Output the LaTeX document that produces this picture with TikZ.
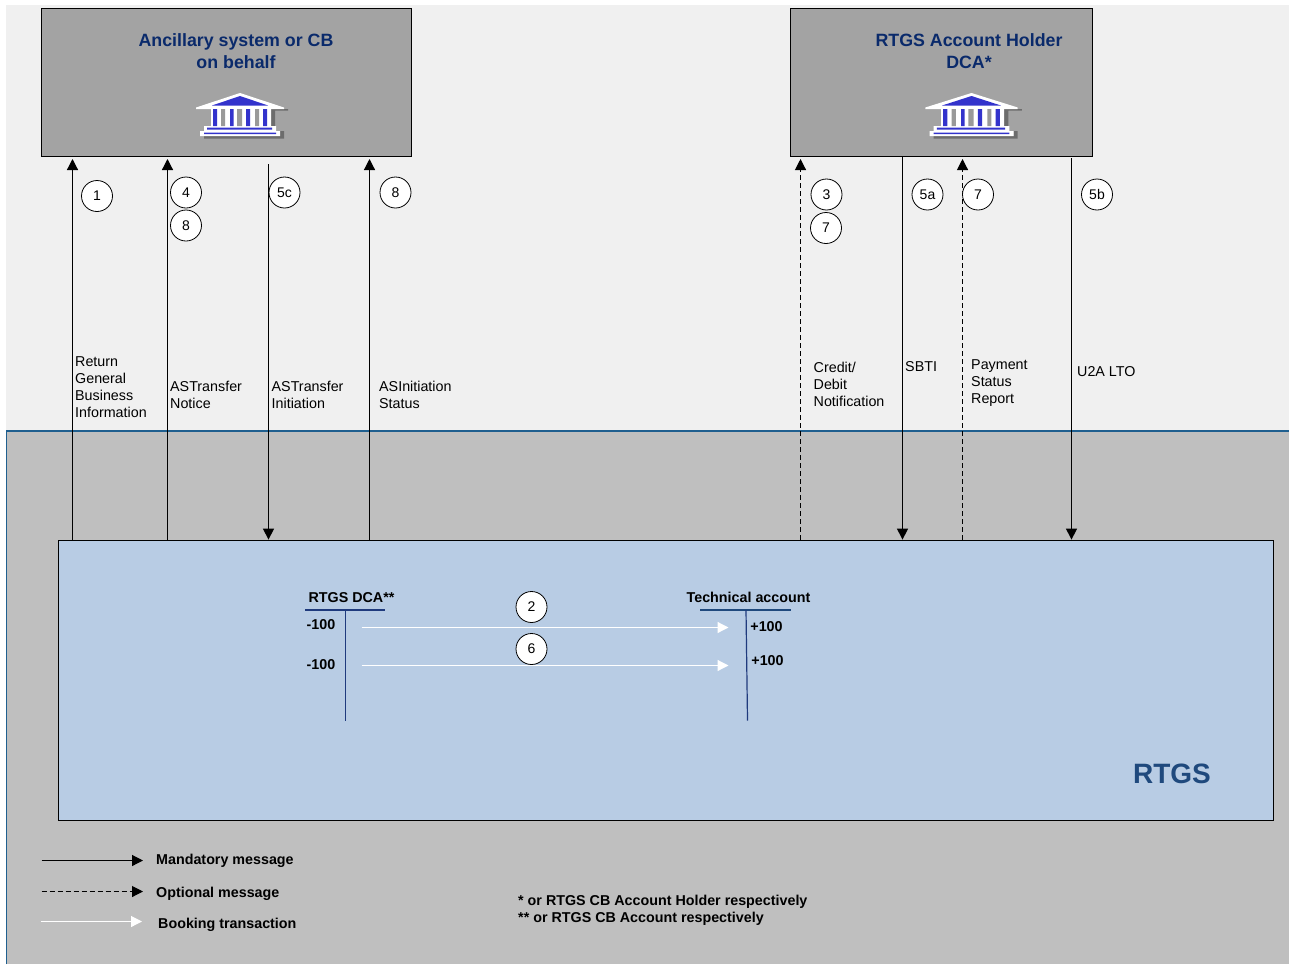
\documentclass[tikz,border=0pt]{standalone}
\usepackage{fontspec}
\setmainfont{Liberation Sans}
\usetikzlibrary{arrows.meta,positioning,calc}
\definecolor{upperBg}{HTML}{F0F0F0}
\definecolor{lowerBg}{HTML}{BFBFBF}
\definecolor{zoneLine}{HTML}{1F5F8F}
\definecolor{actorGrey}{HTML}{A3A3A3}
\definecolor{rtgsBlue}{HTML}{B8CCE4}
\definecolor{titleNavy}{HTML}{0A2A6B}
\definecolor{rtgsText}{HTML}{1F497D}
\definecolor{bankBlue}{HTML}{3333CC}
\definecolor{tNavy}{HTML}{1F3A7D}
\tikzset{
	actorBox/.style={draw=black, line width=1pt, fill=actorGrey},
	actorTitle/.style={text=titleNavy, align=center, font=\fontsize{17.8}{22}\selectfont\bfseries},
	stepCircle/.style={circle, draw=black, fill=white, line width=0.8pt, minimum size=31pt, inner sep=0pt, font=\fontsize{14}{16}\selectfont},
	msgLabel/.style={anchor=west, align=left, inner sep=0pt, font=\fontsize{14.3}{17}\selectfont},
	boldLabel/.style={inner sep=0pt, font=\fontsize{14.3}{17}\selectfont\bfseries},
	mandatoryMsg/.style={draw=black, line width=1.2pt, -{Triangle[width=11pt,length=11pt]}},
	optionalMsg/.style={mandatoryMsg, line width=1.1pt, dash pattern=on 5pt off 3pt},
	bookingMsg/.style={draw=white, line width=1.2pt, -{Triangle[width=11pt,length=11pt]}},
	tLine/.style={draw=tNavy, line width=1.2pt}
}
\newcommand{\stepNode}[4]{\node[stepCircle] (#1) at (#2,#3) {#4};}
\newcommand{\msgNode}[4]{\node[msgLabel] (#1) at (#2,#3) {#4};}
\newcommand{\upMsg}[3]{\coordinate (#1) at (#2,159);
	\draw[#3] (#1 |- rtgs.north) -- (#1);}
\newcommand{\downMsg}[3]{\coordinate (#1) at (#2,#3);
	\draw[mandatoryMsg] (#1) -- (#1 |- rtgs.north);}
\newcommand{\bankIcon}[3]{\begin{scope}[shift={(#1,#2)},xscale=#3]
	\fill[gray!85!black] (30,16) rectangle (48,17.5) (30,16) rectangle (35,33) (40,38) rectangle (44,45.5) (-36,43) rectangle (44,45.5);
	\fill[white] (-44,14.5) -- (0,0) -- (44,14.5) -- (44,16) -- (-44,16) -- cycle;
	\fill[bankBlue] (-28,12.5) -- (0,3) -- (28,12.5) -- cycle;
	\fill[white] (-29,15) rectangle (31,34) (-36,33) rectangle (36,38) (-40,38) rectangle (40,43);
	\fill[gray!80] (-19,16) rectangle (-15,33) (-3,16) rectangle (2,33) (15,16) rectangle (19,33);
	\fill[bankBlue] (-27,16) rectangle (-23,33) (-10,16) rectangle (-6.5,33) (6,16) rectangle (10,33) (23,16) rectangle (27,33);
	\fill[bankBlue] (-33,34.5) rectangle (32,36.5) (-36,39.5) rectangle (36,41);
\end{scope}}

\begin{document}
\begin{tikzpicture}[x=1pt, y=-1pt]
	\useasboundingbox (0,0) rectangle (1289,964);
	% zones
	\fill[upperBg] (6,5) rectangle (1289,431);
	\fill[lowerBg] (6,431) rectangle (1289,964);
	\draw[zoneLine, line width=1.5pt] (6.5,964) -- (6.5,431) -- (1289,431);
	% boxes
	\node[actorBox, minimum width=370pt, minimum height=148pt, inner sep=0pt] (ancillary) at (226,82) {};
	\node[actorBox, minimum width=302pt, minimum height=148pt, inner sep=0pt] (holder) at (941,82) {};
	\node[draw=black, line width=0.8pt, fill=rtgsBlue, minimum width=1215pt, minimum height=280pt, inner sep=0pt] (rtgs) at (665.5,680) {};
	\node[actorTitle] (ancillaryTitle) at (236,51) {Ancillary system or CB\\on behalf};
	\node[actorTitle] (holderTitle) at (969,51) {RTGS Account Holder\\DCA*};
	\bankIcon{240}{93}{1}
	\bankIcon{971.5}{93}{1.05}
	\node[text=rtgsText, inner sep=0pt, font=\fontsize{28}{30}\selectfont\bfseries] (rtgsTitle) at (1172,774) {RTGS};
	% messages
	\upMsg{returnInfo}{72.5}{mandatoryMsg}
	\upMsg{transferNotice}{167.5}{mandatoryMsg}
	\downMsg{transferInit}{268.5}{164}
	\upMsg{initStatus}{369.5}{mandatoryMsg}
	\upMsg{creditDebit}{800.5}{optionalMsg}
	\downMsg{sbti}{902.5}{156}
	\upMsg{payStatus}{962.5}{optionalMsg}
	\downMsg{ltoMsg}{1071.5}{158}
	\msgNode{returnLabel}{75}{387.5}{Return\\General\\Business\\Information}
	\msgNode{noticeLabel}{170}{394.5}{ASTransfer\\Notice}
	\msgNode{initLabel}{271.5}{394.5}{ASTransfer\\Initiation}
	\msgNode{statusLabel}{379}{394.5}{ASInitiation\\Status}
	\msgNode{creditLabel}{813.5}{384}{Credit/\\Debit\\Notification}
	\msgNode{sbtiLabel}{905}{366.5}{SBTI}
	\msgNode{payLabel}{971}{383.5}{Payment\\Status\\Report}
	\msgNode{ltoLabel}{1077}{372}{U2A LTO}
	% steps
	\stepNode{stepOne}{97}{196}{1}
	\stepNode{stepFour}{186}{192.5}{4}
	\stepNode{stepEightA}{186}{225.5}{8}
	\stepNode{stepFiveC}{284.5}{192.5}{5c}
	\stepNode{stepEightB}{395.5}{192.5}{8}
	\stepNode{stepThree}{826.5}{194.5}{3}
	\stepNode{stepSevenA}{826}{228}{7}
	\stepNode{stepFiveA}{927.5}{194.5}{5a}
	\stepNode{stepSevenB}{978}{194.5}{7}
	\stepNode{stepFiveB}{1097}{194.5}{5b}
	% t accounts
	\coordinate (dcaTop) at (345.5,610);
	\coordinate (techTop) at (746,610);
	\draw[tLine] ($(dcaTop)+(-40.5,0)$) -- ($(dcaTop)+(39,0)$);
	\draw[tLine] (dcaTop) -- ($(dcaTop)+(0,110.5)$);
	\draw[tLine, draw=rtgsText] ($(techTop)+(-46,0)$) -- ($(techTop)+(45,0)$);
	\draw[tLine] (techTop) -- ($(techTop)+(1.5,110.5)$);
	\node[boldLabel] (dcaLabel) at (351.5,597.5) {RTGS DCA**};
	\node[boldLabel] (techLabel) at (748.5,597.5) {Technical account};
	\node[boldLabel] (dcaFirst) at (321,625) {-100};
	\node[boldLabel] (dcaSecond) at (321,665) {-100};
	\node[boldLabel] (techFirst) at (766.5,627) {+100};
	\node[boldLabel] (techSecond) at (767.5,661) {+100};
	\coordinate (bookFromA) at (361.5,627.5);
	\coordinate (bookToA) at (728.5,627.5);
	\coordinate (bookFromB) at (361.5,665.5);
	\coordinate (bookToB) at (728.5,665.5);
	\draw[bookingMsg] (bookFromA) -- (bookToA);
	\draw[bookingMsg] (bookFromB) -- (bookToB);
	\stepNode{stepTwo}{531.5}{607}{2}
	\stepNode{stepSix}{531.5}{649}{6}
	% legend
	\node[boldLabel, anchor=west] (legendMand) at (156,860.5) {Mandatory message};
	\node[boldLabel, anchor=west] (legendOpt) at (156,893.5) {Optional message};
	\node[boldLabel, anchor=west] (legendBook) at (158,924.5) {Booking transaction};
	\coordinate (mandFrom) at (41.5,860.5);
	\coordinate (mandTo) at (143,860.5);
	\coordinate (optFrom) at (41.5,891.5);
	\coordinate (optTo) at (143,891.5);
	\coordinate (bookFrom) at (40.5,921.5);
	\coordinate (bookTo) at (142,921.5);
	\draw[mandatoryMsg] (mandFrom) -- (mandTo);
	\draw[optionalMsg] (optFrom) -- (optTo);
	\draw[bookingMsg] (bookFrom) -- (bookTo);
	\node[boldLabel, anchor=west, align=left] (footNotes) at (518,910) {* or RTGS CB Account Holder respectively\\** or RTGS CB Account respectively};
\end{tikzpicture}
\end{document}
